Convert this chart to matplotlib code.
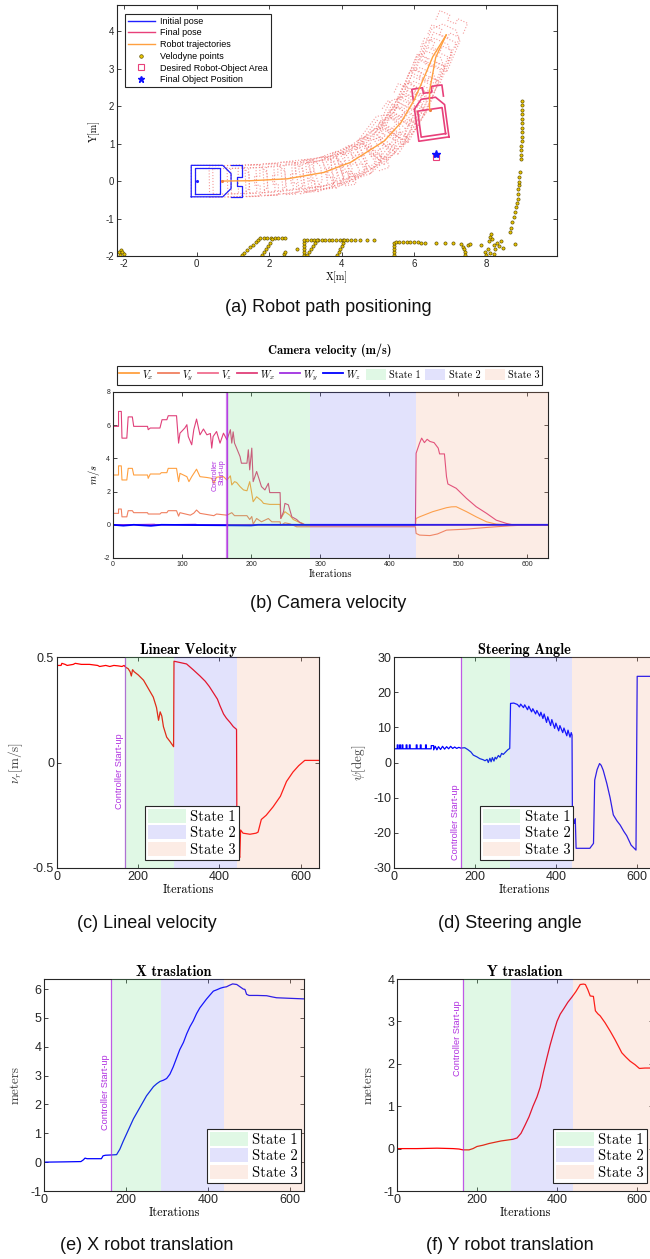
import numpy as np
import matplotlib
matplotlib.use("Agg")
import matplotlib.pyplot as plt
from matplotlib.lines import Line2D

plt.rcParams["mathtext.fontset"] = "cm"
plt.rcParams["font.family"] = ["Liberation Sans", "DejaVu Sans"]
plt.rcParams["axes.unicode_minus"] = False

# ---------------------------------------------------------------- data
# (a) robot path
traj_out = [(0.69, 0.0), (1.5, 0.01), (2.5, 0.06), (3.51, 0.23), (4.25, 0.5),
            (5.18, 1.07), (5.64, 1.56), (6.01, 2.17), (6.29, 2.79), (6.52, 3.32),
            (6.89, 3.9)]
traj_back = [(6.89, 3.9), (6.6, 3.3), (6.43, 2.4), (6.43, 1.91)]
# footprint poses along the path: x, y, heading [deg]
pose_x = [0.0, 0.5, 1.0, 1.5, 2.0, 2.5, 2.92, 3.34, 3.78, 4.21, 4.64, 4.97, 5.3,
          5.55, 5.77, 5.97, 6.17, 6.37, 6.59, 3.1, 4.0, 4.85, 5.4]
pose_y = [0.0, -0.01, 0.0, 0.01, 0.05, 0.10, 0.10, 0.16, 0.25, 0.42, 0.62, 0.84,
          1.08, 1.37, 1.72, 2.08, 2.51, 2.86, 3.24, 0.16, 0.38, 0.9, 1.3]
pose_th = [0, 1, 2, 3, 4, 6, 12, 20, 28, 33, 40, 47, 55, 60, 64, 66, 66, 66, 66,
           8, 18, 52, 64]
initial_pose = (0.0, 0.0, 0.0)
final_pose = (6.53, 1.27, 98.0)
object_pos = (6.62, 0.71)
desired_area = (6.62, 0.64)
velodyne = [
    (-2.15, -1.9), (-2.1, -1.85), (-2.05, -1.88), (-2.0, -1.95), (-2.12, -1.97),
    (1.24, -1.98), (1.32, -1.91), (1.40, -1.84), (1.48, -1.77), (1.56, -1.70),
    (1.64, -1.62), (1.70, -1.57), (1.76, -1.52),
    (1.85, -1.52), (1.95, -1.52), (2.05, -1.52), (2.15, -1.52), (2.25, -1.52),
    (2.35, -1.52), (2.44, -1.53),
    (1.80, -1.98), (1.86, -1.90), (1.92, -1.82), (1.97, -1.73), (2.02, -1.64),
    (2.07, -1.55), (2.42, -1.94), (2.45, -1.9), (2.78, -1.8),
    (2.95, -1.98), (2.95, -1.9), (2.95, -1.82), (2.95, -1.74), (2.95, -1.66),
    (2.95, -1.58),
    (3.05, -1.56), (3.15, -1.56), (3.25, -1.56), (3.35, -1.56), (3.45, -1.56),
    (3.55, -1.56), (3.65, -1.56), (3.75, -1.56), (3.85, -1.56), (3.95, -1.56),
    (4.05, -1.56), (4.15, -1.56), (4.25, -1.56), (4.38, -1.57), (4.52, -1.57),
    (4.7, -1.57), (4.9, -1.58),
    (3.05, -1.98), (3.1, -1.9), (3.16, -1.82), (3.22, -1.74), (3.28, -1.66),
    (3.33, -1.58),
    (3.88, -1.98), (3.92, -1.9), (3.96, -1.82), (4.0, -1.74), (4.03, -1.66),
    (4.06, -1.58),
    (5.45, -1.98), (5.45, -1.9), (5.45, -1.82), (5.45, -1.74), (5.45, -1.66),
    (5.5, -1.63), (5.6, -1.63), (5.7, -1.63), (5.8, -1.63), (5.9, -1.63),
    (6.0, -1.63), (6.1, -1.63), (6.2, -1.64), (6.3, -1.64), (6.6, -1.64),
    (6.85, -1.65), (7.07, -1.66),
    (7.3, -1.68), (7.35, -1.75), (7.38, -1.82), (7.4, -1.9), (7.42, -1.97),
    (7.5, -1.7), (7.55, -1.68),
    (7.85, -1.7), (7.95, -1.9), (8.0, -1.97), (8.05, -1.8), (8.08, -1.6),
    (8.1, -1.5), (8.12, -1.4), (8.15, -1.55), (8.2, -1.7), (8.25, -1.8),
    (8.3, -1.65), (8.35, -1.72), (8.4, -1.6), (8.45, -1.78), (8.1, -1.92),
    (8.2, -1.95), (8.8, -1.67),
    (8.65, -1.36), (8.68, -1.25), (8.72, -1.1), (8.76, -0.95), (8.79, -0.83),
    (8.82, -0.7), (8.84, -0.58), (8.86, -0.47), (8.87, -0.35), (8.88, -0.22),
    (8.9, -0.1), (8.9, -0.03), (8.91, 0.1), (8.93, 0.23), (8.95, 0.59),
    (8.96, 0.7), (8.96, 0.82), (8.96, 0.94), (8.97, 1.06), (8.97, 1.18),
    (8.97, 1.3), (8.97, 1.42), (8.97, 1.54), (8.97, 1.66), (8.97, 1.78),
    (8.97, 1.9), (8.97, 2.02), (8.97, 2.14),
]

# (b) camera velocity (iteration, value)
cam_vx = [(0, 3.0), (8, 3.0), (8, 3.55), (12, 3.55), (13, 2.7), (20, 2.7), (22, 3.4),
          (28, 3.4), (30, 3.0), (50, 3.0), (51, 2.8), (54, 3.06), (68, 3.06), (70, 3.14),
          (78, 3.14), (80, 3.4), (92, 3.4), (95, 2.6), (97, 3.1), (107, 2.9), (110, 2.6),
          (114, 2.9), (121, 3.35), (126, 2.9), (136, 2.85), (143, 2.8), (146, 2.5),
          (150, 2.87), (160, 2.9), (165, 2.7), (170, 2.95), (172, 2.4), (176, 2.6),
          (179, 2.55), (184, 2.3), (189, 2.1), (194, 2.05), (198, 2.6), (201, 1.9),
          (203, 1.39), (208, 1.69), (215, 1.45), (218, 1.29), (227, 1.23), (242, 1.23),
          (243, 0.38), (249, 0.79), (256, 0.58), (261, 0.32), (268, 0.18), (273, 0.12),
          (280, -0.05), (438, -0.05), (439, 0.38), (444, 0.48), (463, 0.79), (483, 1.03),
          (490, 1.08), (497, 1.09), (512, 0.79), (526, 0.48), (541, 0.18), (555, 0.04),
          (570, 0.0), (630, 0.0)]
cam_vy = [(0, 0.69), (8, 0.69), (8, 0.95), (12, 0.95), (13, 0.48), (20, 0.48), (22, 0.85),
          (28, 0.85), (30, 0.73), (50, 0.73), (51, 0.65), (68, 0.65), (70, 0.73), (78, 0.73),
          (80, 0.85), (92, 0.85), (95, 0.52), (97, 0.73), (112, 0.58), (117, 0.7),
          (121, 0.89), (126, 0.69), (146, 0.55), (150, 0.65), (165, 0.58), (172, 0.73),
          (176, 0.55), (194, 0.55), (198, 0.32), (201, 0.5), (203, 0.04), (208, 0.38),
          (215, 0.18), (225, 0.38), (230, 0.18), (242, 0.18), (243, -0.04), (249, 0.12),
          (256, 0.06), (266, -0.12), (438, -0.12), (439, -0.52), (444, -0.62), (459, -0.65),
          (470, -0.55), (483, -0.32), (512, -0.26), (541, -0.16), (575, -0.06),
          (594, -0.02), (630, 0.0)]
cam_vz = [(0, 0.0), (60, 0.02), (120, -0.02), (200, 0.02), (280, -0.03), (438, -0.03),
          (440, 0.0), (630, 0.0)]
cam_wx = [(0, 5.93), (8, 5.93), (8, 6.83), (12, 6.83), (13, 5.22), (20, 5.22), (22, 6.5),
          (28, 6.5), (30, 5.93), (50, 5.93), (51, 5.73), (54, 5.83), (68, 5.83), (71, 6.33),
          (78, 6.33), (80, 6.57), (92, 6.57), (95, 4.92), (97, 5.52), (104, 5.83),
          (107, 6.03), (109, 5.32), (114, 4.82), (117, 5.73), (121, 6.37), (126, 5.42),
          (131, 5.77), (136, 5.42), (141, 5.5), (143, 4.62), (145, 5.32), (150, 5.62),
          (155, 4.92), (160, 5.52), (165, 5.12), (170, 5.73), (172, 4.92), (174, 5.6),
          (176, 4.92), (179, 4.62), (184, 4.11), (186, 3.71), (194, 3.71), (196, 4.52),
          (198, 3.31), (201, 4.62), (203, 2.6), (208, 3.21), (212, 2.7), (215, 2.3),
          (220, 2.1), (225, 2.5), (227, 1.94), (242, 1.94), (243, 0.38), (247, 0.79),
          (249, 1.29), (254, 1.2), (259, 0.48), (266, 0.32), (271, 0.12), (278, 0.0),
          (438, 0.0), (439, 4.31), (444, 4.92), (447, 5.22), (451, 4.95), (455, 5.15),
          (459, 5.02), (465, 4.95), (471, 4.62), (473, 4.27), (480, 4.27), (483, 2.9),
          (485, 2.46), (497, 2.2), (512, 1.59), (526, 1.09), (541, 0.69), (555, 0.28),
          (570, 0.08), (579, 0.0), (630, 0.0)]
cam_wy = [(0, 0.0), (60, 0.03), (62, 0.0), (120, 0.03), (122, 0.0), (630, 0.0)]
cam_wz = [(0, 0.0), (15, -0.05), (30, 0.0), (55, -0.06), (70, 0.0), (200, -0.04),
          (210, 0.0), (630, 0.0)]

# (c) linear velocity [m/s]
lin_vel = [(0, 0.46), (10, 0.46), (12, 0.47), (20, 0.465), (25, 0.46), (40, 0.465),
           (45, 0.47), (60, 0.465), (80, 0.465), (100, 0.46), (105, 0.455), (120, 0.46),
           (130, 0.455), (140, 0.46), (150, 0.458), (160, 0.455), (165, 0.46), (170, 0.45),
           (175, 0.445), (180, 0.43), (183, 0.41), (186, 0.44), (190, 0.43), (200, 0.415),
           (213, 0.39), (225, 0.35), (237, 0.31), (245, 0.26), (250, 0.20), (254, 0.24),
           (258, 0.22), (262, 0.17), (270, 0.12), (278, 0.10), (287, 0.075), (288, 0.48),
           (300, 0.475), (319, 0.467), (335, 0.44), (352, 0.41), (365, 0.385), (375, 0.36),
           (385, 0.33), (395, 0.30), (401, 0.27), (410, 0.23), (417, 0.21), (426, 0.19),
           (434, 0.17), (442, 0.157), (443, -0.37), (445, -0.32), (448, -0.44),
           (450, -0.45), (452, -0.32), (458, -0.335), (475, -0.34), (490, -0.335),
           (495, -0.33), (503, -0.27), (515, -0.25), (532, -0.21), (550, -0.16),
           (565, -0.09), (581, -0.045), (595, -0.015), (610, 0.01), (625, 0.01), (645, 0.01)]

# (d) steering angle [deg]
steer = [(0, 3.9), (8, 3.9), (8, 5.0), (10, 5.0), (10, 3.9), (14, 3.9), (14, 5.0), (16, 5.0),
         (16, 3.9), (20, 3.9), (20, 5.0), (22, 5.0), (22, 3.9), (30, 3.9), (30, 5.0), (32, 5.0),
         (32, 3.9), (38, 3.9), (38, 5.0), (40, 5.0), (40, 3.9), (55, 3.9), (55, 5.0), (57, 5.0),
         (57, 3.9), (65, 3.9), (65, 5.0), (67, 5.0), (67, 3.9), (78, 3.9), (78, 5.0), (80, 5.0),
         (80, 3.9), (92, 3.9), (92, 4.8), (98, 4.8), (98, 3.6), (102, 4.6), (106, 3.6),
         (110, 4.5), (115, 3.7), (120, 4.6), (125, 3.8), (130, 4.5), (135, 3.9), (140, 4.6),
         (145, 4.0), (150, 4.4), (155, 4.0), (160, 4.3), (165, 4.1), (175, 4.2), (182, 3.7),
         (190, 3.0), (196, 2.1), (205, 1.6), (212, 1.1), (220, 0.8), (225, 0.5), (230, 0.9),
         (233, 0.0), (237, 1.2), (240, 0.2), (243, 1.4), (247, 0.4), (250, 1.5), (253, 1.0),
         (258, 2.0), (262, 1.5), (266, 2.6), (270, 2.3), (276, 3.0), (281, 3.6), (286, 4.0),
         (288, 16.8), (296, 16.9), (305, 16.5), (310, 15.8), (313, 16.6), (320, 15.6),
         (323, 16.4), (330, 15.0), (333, 16.0), (340, 14.4), (343, 15.3), (350, 13.8),
         (353, 14.8), (360, 13.2), (363, 14.3), (368, 12.5), (371, 13.8), (377, 11.4),
         (380, 13.0), (387, 10.5), (390, 12.2), (397, 9.7), (400, 11.2), (407, 9.0),
         (410, 10.5), (417, 8.5), (420, 9.8), (427, 7.6), (430, 9.2), (435, 7.2), (438, 8.5),
         (440, 7.8), (441, -17.3), (444, -16.5), (446, -17.3), (448, -16.0), (450, -24.4),
         (484, -24.4), (489, -23.6), (493, -23.0), (496, -5.0), (502, -2.0), (508, -0.3),
         (512, -0.8), (517, -2.2), (526, -6.0), (534, -10.0), (542, -14.9), (551, -16.6),
         (559, -17.8), (568, -19.6), (575, -20.8), (586, -23.5), (598, -24.9), (601, 24.5),
         (645, 24.5)]

# (e) X translation [m]
x_trans = [(0, 0.0), (50, 0.01), (90, 0.02), (96, 0.08), (100, 0.14), (105, 0.12),
           (140, 0.12), (144, 0.22), (150, 0.24), (165, 0.25), (177, 0.26), (185, 0.45),
           (193, 0.72), (202, 1.0), (210, 1.25), (218, 1.5), (226, 1.7), (234, 1.9),
           (242, 2.1), (250, 2.3), (258, 2.45), (267, 2.62), (275, 2.72), (283, 2.8),
           (291, 2.84), (299, 2.9), (307, 3.05), (315, 3.3), (323, 3.6), (331, 3.9),
           (340, 4.15), (348, 4.45), (356, 4.7), (364, 4.9), (372, 5.15), (380, 5.35),
           (388, 5.5), (396, 5.65), (405, 5.8), (413, 5.93), (422, 5.98), (430, 6.03),
           (437, 6.06), (445, 6.08), (452, 6.13), (460, 6.18), (470, 6.16), (478, 6.08),
           (486, 6.0), (490, 5.99), (494, 5.82), (500, 5.78), (520, 5.78), (543, 5.77),
           (556, 5.73), (567, 5.7), (600, 5.68), (635, 5.66)]

# (f) Y translation [m]
y_trans = [(0, 0.0), (50, 0.0), (100, 0.01), (140, 0.0), (155, -0.01), (165, -0.03),
           (180, -0.03), (190, 0.0), (200, 0.05), (215, 0.08), (230, 0.12), (245, 0.15),
           (260, 0.18), (275, 0.2), (290, 0.22), (300, 0.25), (310, 0.36), (320, 0.55),
           (330, 0.75), (340, 1.0), (350, 1.22), (358, 1.45), (366, 1.8), (375, 2.15),
           (383, 2.45), (392, 2.75), (400, 3.0), (408, 3.17), (417, 3.3), (427, 3.45),
           (437, 3.57), (447, 3.7), (458, 3.87), (466, 3.88), (471, 3.87), (477, 3.75),
           (483, 3.6), (491, 3.59), (496, 3.25), (502, 3.18), (508, 3.13), (520, 2.97),
           (533, 2.77), (545, 2.57), (556, 2.37), (562, 2.26), (572, 2.16), (583, 2.06),
           (595, 1.98), (606, 1.89), (620, 1.9), (645, 1.9)]

# controller start-up iteration and state boundaries per plot
startup = {"b": 165, "c": 167, "d": 165, "e": 163, "f": 165}
state_edges = {"b": [166, 285, 439, 630], "c": [168, 288, 444, 645],
               "d": [168, 286, 441, 645], "e": [167, 286, 439, 635],
               "f": [167, 286, 440, 645]}
state_names = ["State 1", "State 2", "State 3"]
state_colors = ["#66E080", "#7070F0", "#F0A080"]

# ---------------------------------------------------------------- helpers
SPINE = "#262626"
SERIF = "cmr10"
SERIF_B = "cmb10"
PURPLE = "#B030E0"
W, H = 650, 1259


def px_axes(fig, left, top, right, bottom):
    return fig.add_axes([left / W, 1 - bottom / H, (right - left) / W, (bottom - top) / H])


def style(ax, size):
    ax.tick_params(direction="in", top=True, right=True, labelsize=size, length=3,
                   width=0.6, colors=SPINE, pad=2)
    for s in ax.spines.values():
        s.set_linewidth(0.8)
        s.set_color(SPINE)


def shade(ax, key):
    e = state_edges[key]
    handles = []
    for i in range(3):
        handles.append(ax.axvspan(e[i], e[i + 1], color=state_colors[i], alpha=0.2,
                                  lw=0, zorder=3, label=state_names[i]))
    ax.axvline(startup[key], color=PURPLE, lw=0.9, alpha=0.8, zorder=2)
    return handles


def unzip(pairs):
    a = np.array(pairs, dtype=float)
    return a[:, 0], a[:, 1]


def state_legend(ax, handles, x0):
    lg = ax.legend(handles=handles, loc="lower left", bbox_to_anchor=(x0, 0.038),
                   borderaxespad=0, prop={"family": SERIF, "size": 10.5}, handlelength=2.6,
                   handleheight=1.1, handletextpad=0.3, labelspacing=0.12, borderpad=0.2,
                   fancybox=False, edgecolor=SPINE, framealpha=1)
    lg.get_frame().set_linewidth(0.8)


# robot outline in its own frame
body = np.array([(-0.15, -0.42), (0.72, -0.42), (0.95, -0.2), (0.95, 0.2), (0.72, 0.42),
                 (-0.15, 0.42), (-0.15, -0.42)])
inner = np.array([(-0.05, -0.34), (0.65, -0.34), (0.65, 0.34), (-0.05, 0.34), (-0.05, -0.34)])
bracket = np.array([(0.95, -0.42), (1.25, -0.42), (1.25, -0.12), (1.1, -0.12), (1.1, 0.12),
                    (1.25, 0.12), (1.25, 0.42), (0.95, 0.42)])


def place(shape, x, y, th):
    t = np.deg2rad(th)
    r = np.array([[np.cos(t), -np.sin(t)], [np.sin(t), np.cos(t)]])
    return shape @ r.T + np.array([x, y])


def draw_robot(ax, pose, **kw):
    for shp in (body, inner, bracket):
        p = place(shp, *pose)
        ax.plot(p[:, 0], p[:, 1], **kw)


# ---------------------------------------------------------------- figure
fig = plt.figure(figsize=(6.5, 12.59), dpi=100)

# (a) robot path
ax = px_axes(fig, 117, 5, 557, 256)
for px_, py_, pt_ in zip(pose_x, pose_y, pose_th):
    draw_robot(ax, (px_, py_, pt_), color="#F07070", ls=":", lw=0.8, alpha=0.7, zorder=1)
draw_robot(ax, final_pose, color="#E8407A", lw=1.2, zorder=3)
draw_robot(ax, initial_pose, color="#2020FF", lw=0.9, zorder=3)
ax.plot([initial_pose[0]], [initial_pose[1]], ".", color="#2020FF", ms=2.5, zorder=4)
tx, ty = unzip(traj_out)
ax.plot(tx, ty, color="#FFA040", lw=1.0, zorder=4)
bx, by = unzip(traj_back)
ax.plot(bx, by, color="#FFA040", lw=1.0, zorder=4)
ax.plot([tx[0], bx[-1]], [ty[0], by[-1]], ".", color="#F08040", ms=2.5, zorder=4)
vx_, vy_ = unzip(velodyne)
ax.plot(vx_, vy_, "o", ms=2.3, mfc="#E8C400", mec="#5A4A00", mew=0.45, ls="none", zorder=2)
ax.plot([desired_area[0]], [desired_area[1]], "s", ms=4, mfc="none", mec="#E8407A",
        mew=0.8, zorder=4)
ax.plot([object_pos[0]], [object_pos[1]], "*", ms=6, color="#1010FF", zorder=5)
ax.set_xlim(-2.2, 9.95)
ax.set_ylim(-2, 4.7)
ax.set_xticks([-2, 0, 2, 4, 6, 8])
ax.set_yticks([-2, -1, 0, 1, 2, 3, 4])
style(ax, 7)
ax.set_xlabel("X[m]", family=SERIF, fontsize=7.5, labelpad=2)
ax.set_ylabel("Y[m]", family=SERIF, fontsize=7.5, labelpad=4)
leg_a = [
    Line2D([], [], color="#2020FF", lw=1, label="Initial pose"),
    Line2D([], [], color="#E8407A", lw=1, label="Final pose"),
    Line2D([], [], color="#FFA040", lw=1, label="Robot trajectories"),
    Line2D([], [], marker="o", ls="none", ms=2.6, mfc="#E8C400", mec="#5A4A00", mew=0.45,
           label="Velodyne points"),
    Line2D([], [], marker="s", ls="none", ms=4, mfc="none", mec="#E8407A", mew=0.8,
           label="Desired Robot-Object Area"),
    Line2D([], [], marker="*", ls="none", ms=5, color="#1010FF", label="Final Object Position"),
]
lg = ax.legend(handles=leg_a, loc="upper left", bbox_to_anchor=(0.018, 0.964),
               borderaxespad=0, fontsize=6.5, handlelength=3.0, handletextpad=0.6,
               labelspacing=0.3, borderpad=0.3, fancybox=False, edgecolor=SPINE,
               framealpha=1)
lg.get_frame().set_linewidth(0.8)

# (b) camera velocity
ax = px_axes(fig, 113, 392, 548, 558)
series_b = [(cam_vx, "#FFA040", r"$V_x$", 0.8), (cam_vy, "#F08060", r"$V_y$", 0.8),
            (cam_vz, "#F07090", r"$V_z$", 0.8), (cam_wx, "#E0407A", r"$W_x$", 0.8),
            (cam_wy, "#A030E0", r"$W_y$", 0.8), (cam_wz, "#0000FF", r"$W_z$", 1.3)]
hb = []
for data, col, lab, lw in series_b:
    xs, ys = unzip(data)
    ax.plot(xs, ys, color=col, lw=lw, zorder=2)
    hb.append(Line2D([], [], color=col, lw=1.3, label=lab))
hb += shade(ax, "b")
ax.axvline(startup["b"], color=PURPLE, lw=1.6, alpha=0.6, zorder=2)
ax.text(startup["b"] - 2, 3.0, "Controller\nStart-up", rotation=90, ha="right",
        va="center", fontsize=5.2, color=PURPLE, linespacing=0.95, zorder=5)
ax.set_xlim(0, 630)
ax.set_ylim(-2, 8)
ax.set_xticks([0, 100, 200, 300, 400, 500, 600])
ax.set_yticks([-2, 0, 2, 4, 6, 8])
style(ax, 5)
ax.set_xlabel("Iterations", family=SERIF, fontsize=7.5, labelpad=1)
ax.set_ylabel(r"$m/s$", fontsize=7.5, labelpad=1)
lg = ax.legend(handles=hb, loc="lower center", bbox_to_anchor=(0.497, 1.045), ncol=9,
               borderaxespad=0, prop={"family": SERIF, "size": 7.3}, handlelength=2.0,
               handleheight=1.2, handletextpad=0.3, columnspacing=0.45, borderpad=0.2,
               fancybox=False, edgecolor=SPINE, framealpha=1)
lg.get_frame().set_linewidth(0.8)
fig.text(330 / W, 1 - 350 / H, "Camera velocity (m/s)", family=SERIF_B, fontsize=8.9,
         ha="center", va="center")


def bottom_panel(box, key, data, color, ylim, yticks, title, ylabel, xmax, txt_y,
                 leg_x, ylabel_pad):
    ax = px_axes(fig, *box)
    xs, ys = unzip(data)
    ax.plot(xs, ys, color=color, lw=0.9, zorder=2)
    hs = shade(ax, key)
    ax.text(startup[key] - 2, txt_y, "Controller Start-up", rotation=90, ha="right",
            va="center", fontsize=6.6, color=PURPLE, zorder=5)
    ax.set_xlim(0, xmax)
    ax.set_ylim(*ylim)
    ax.set_xticks([0, 200, 400, 600])
    ax.set_yticks(yticks)
    style(ax, 9)
    ax.set_title(title, family=SERIF_B, fontsize=10.3, pad=2)
    ax.set_xlabel("Iterations", family=SERIF, fontsize=8.8, labelpad=1)
    ax.set_ylabel(ylabel, family=SERIF, fontsize=9.5, labelpad=ylabel_pad, color="#404040")
    state_legend(ax, hs, leg_x)
    return ax


ax_c = bottom_panel((57, 657, 319, 868), "c", lin_vel, "#FF0000", (-0.5, 0.5),
                    [-0.5, 0, 0.5], "Linear Velocity", r"$\nu_r[\mathrm{m/s}]$", 645,
                    -0.04, 0.336, 6)
ax_c.set_yticklabels(["-0.5", "0", "0.5"])
bottom_panel((394, 657, 655, 868), "d", steer, "#0000FF", (-30, 30),
             [-30, -20, -10, 0, 10, 20, 30], "Steering Angle", r"$\psi[\mathrm{deg}]$", 645,
             -17, 0.328, 4)
bottom_panel((44, 979, 304, 1191), "e", x_trans, "#0000FF", (-1, 6.35),
             [-1, 0, 1, 2, 3, 4, 5, 6], "X traslation", "meters", 634, 2.43, 0.627, 6)
bottom_panel((397, 979, 653, 1191), "f", y_trans, "#FF0000", (-1, 4),
             [-1, 0, 1, 2, 3, 4], "Y traslation", "meters", 640, 2.61, 0.61, 6)

# captions
caps = [(328, 307, "(a) Robot path positioning"), (328, 603, "(b) Camera velocity"),
        (147, 923, "(c) Lineal velocity"), (510, 923, "(d) Steering angle"),
        (147, 1245, "(e) X robot translation"), (510, 1245, "(f) Y robot translation")]
for cx, cy, ct in caps:
    fig.text(cx / W, 1 - cy / H, ct, ha="center", va="center", fontsize=13,
             color="#111111")

fig.savefig("out.png", dpi=100)
